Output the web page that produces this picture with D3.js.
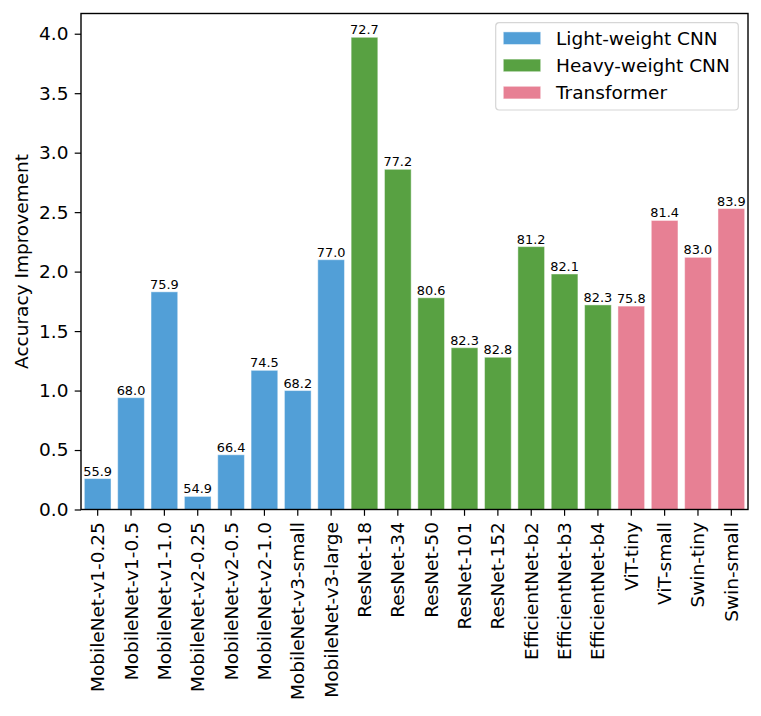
<!DOCTYPE html>
<html>
<head>
<meta charset="utf-8">
<script src="https://d3js.org/d3.v7.min.js"></script>
<style>
body { margin: 0; background: white; }
text { font-family: 'DejaVu Sans', sans-serif; fill: black; }
</style>
</head>
<body>
<div id="plot"></div>
<script>
var models = ['MobileNet-v1-0.25', 'MobileNet-v1-0.5', 'MobileNet-v1-1.0', 'MobileNet-v2-0.25',
    'MobileNet-v2-0.5', 'MobileNet-v2-1.0', 'MobileNet-v3-small', 'MobileNet-v3-large',
    'ResNet-18', 'ResNet-34', 'ResNet-50', 'ResNet-101', 'ResNet-152',
    'EfficientNet-b2', 'EfficientNet-b3', 'EfficientNet-b4',
    'ViT-tiny', 'ViT-small', 'Swin-tiny', 'Swin-small'];
var groups = ['Light-weight CNN', 'Heavy-weight CNN', 'Transformer'];
var modelGroup = [0, 0, 0, 0, 0, 0, 0, 0, 1, 1, 1, 1, 1, 1, 1, 1, 2, 2, 2, 2];
var improvement = [0.26, 0.94, 1.83, 0.11, 0.46, 1.17, 1.0, 2.1,
    3.97, 2.86, 1.78, 1.36, 1.28, 2.21, 1.98, 1.72,
    1.71, 2.43, 2.12, 2.53];
var baseAcc = ['55.9', '68.0', '75.9', '54.9', '66.4', '74.5', '68.2', '77.0',
    '72.7', '77.2', '80.6', '82.3', '82.8', '81.2', '82.1', '82.3',
    '75.8', '81.4', '83.0', '83.9'];
var yTicks = [0, 0.5, 1.0, 1.5, 2.0, 2.5, 3.0, 3.5, 4.0];
var colors = ['#529fd7', '#58a142', '#e78094'];

var width = 761, height = 716;
var margin = {top: 13.5, right: 13, bottom: 206.5, left: 81},
    innerwidth = width - margin.left - margin.right,
    innerheight = height - margin.top - margin.bottom;

var x = d3.scaleBand().domain(models).range([0, innerwidth]).paddingInner(0.2).paddingOuter(0.1);
var y = d3.scaleLinear().domain([0, 4.17]).range([innerheight, 0]);

var svg = d3.select('#plot').append('svg')
    .attr('width', width)
    .attr('height', height)
    .append('g')
        .attr('transform', 'translate(' + margin.left + ',' + margin.top + ')');

// bars
var bars = svg.selectAll('.bar')
    .data(models)
    .enter()
    .append('g')
    .attr('class', 'bar');
bars.append('rect')
    .attr('x', function(d) { return x(d); })
    .attr('width', x.bandwidth())
    .attr('y', function(d, i) { return y(improvement[i]); })
    .attr('height', function(d, i) { return innerheight - y(improvement[i]); })
    .attr('fill', function(d, i) { return colors[modelGroup[i]]; })
    .attr('stroke', 'white')
    .attr('stroke-opacity', 0.45)
    .attr('stroke-width', 1);
bars.append('text')
    .attr('x', function(d) { return x(d) + x.bandwidth()/2; })
    .attr('y', function(d, i) { return y(improvement[i]) - 3; })
    .style('text-anchor', 'middle')
    .style('font-size', '12.9px')
    .text(function(d, i) { return baseAcc[i]; });

// axes
var xAxis = svg.append('g')
    .attr('transform', 'translate(0,' + innerheight + ')')
    .call(d3.axisBottom(x).tickSize(6.3).tickPadding(6.3).tickSizeOuter(0));
xAxis.selectAll('text')
    .style('font-size', '18.5px')
    .style('text-anchor', 'end')
    .attr('transform', 'rotate(-90)')
    .attr('x', -12.6)
    .attr('y', 0)
    .attr('dy', '0.35em');

var yAxis = svg.append('g')
    .call(d3.axisLeft(y).tickValues(yTicks).tickFormat(d3.format('.1f')).tickSize(6.3).tickPadding(6.3).tickSizeOuter(0));
yAxis.selectAll('text').style('font-size', '18.5px');

svg.selectAll('.tick line').attr('stroke', 'black').attr('stroke-width', 1.2);
svg.selectAll('.domain').remove();

// frame
svg.append('rect')
    .attr('width', innerwidth)
    .attr('height', innerheight)
    .attr('fill', 'none')
    .attr('stroke', 'black')
    .attr('stroke-width', 1.4);

svg.append('text')
    .attr('transform', 'translate(' + (28 - margin.left) + ',' + innerheight/2 + ') rotate(-90)')
    .style('text-anchor', 'middle')
    .style('font-size', '18.5px')
    .text('Accuracy Improvement');

// LEGEND
var legend = svg.append('g')
    .attr('transform', 'translate(' + (495.7 - margin.left) + ',' + (22.7 - margin.top) + ')');
legend.append('rect')
    .attr('width', 242.6)
    .attr('height', 87.3)
    .attr('rx', 3.5)
    .attr('fill', 'white')
    .attr('fill-opacity', 0.8)
    .attr('stroke', '#d6d6d6')
    .attr('stroke-width', 1.2);
var items = legend.selectAll('.item')
    .data(groups)
    .enter()
    .append('g')
    .attr('class', 'item')
    .attr('transform', function(d, i) { return 'translate(0,' + (15.5 + i*27.2) + ')'; });
items.append('rect')
    .attr('x', 7.6)
    .attr('y', -6.3)
    .attr('width', 37.4)
    .attr('height', 12.6)
    .attr('fill', function(d, i) { return colors[i]; })
    .attr('stroke', 'white')
    .attr('stroke-opacity', 0.45);
items.append('text')
    .attr('x', 60.3)
    .attr('dy', '0.35em')
    .style('font-size', '18.5px')
    .text(function(d) { return d; });
</script>
</body>
</html>
